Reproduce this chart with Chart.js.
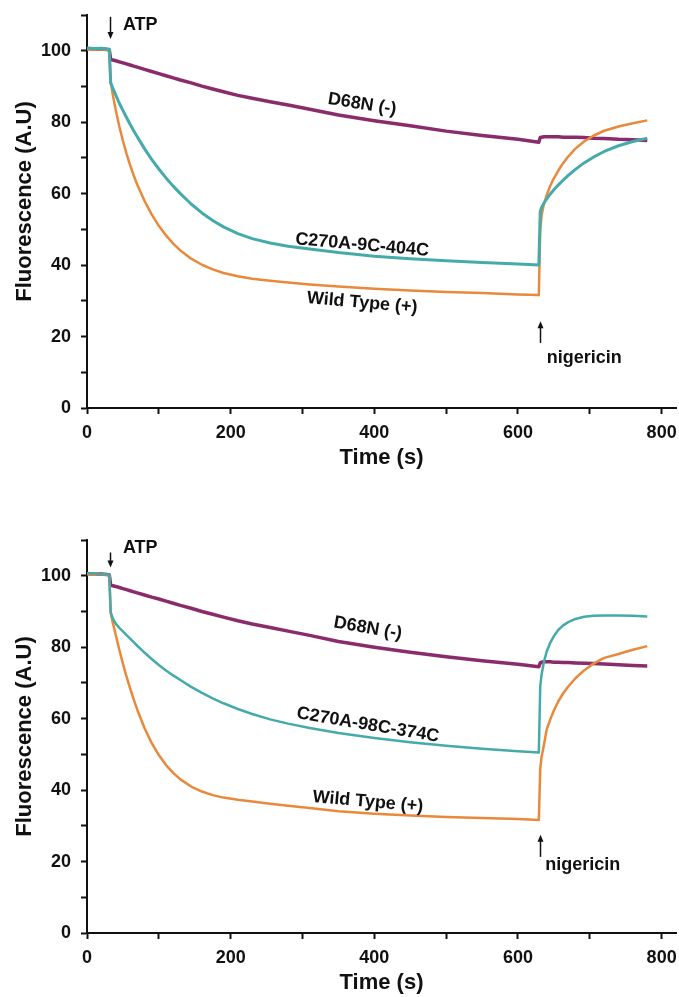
<!DOCTYPE html>
<html lang="en">
<head>
<meta charset="UTF-8">
<title>ATP-driven fluorescence quenching</title>
<script src="https://cdn.jsdelivr.net/npm/chart.js"></script>
<style>
  body { margin: 0; background: #fff; }
  canvas { position: absolute; left: 0; }
  #topChart { top: 0; }
  #bottomChart { top: 525px; }
</style>
</head>
<body>
<canvas id="topChart" width="679" height="472"></canvas>
<canvas id="bottomChart" width="679" height="472"></canvas>
<script>
// sampling times (s), shared by both panels: baseline, ATP decay, nigericin recovery
const time = [0, 10, 20, 31,
  33, 36, 40, 45, 50, 55, 60, 65, 70, 80, 90, 100, 110, 120, 130, 145, 160, 175, 190,
  210, 230, 255, 280, 310, 350, 400, 450, 500, 550, 600, 629,
  631, 633, 636, 640, 645, 650, 656, 663, 670, 680, 692, 705, 720, 740, 760, 780];

// upper panel
const d68nTop = [100.6, 100.4, 100.5, 100.3,
  97.5, 97.4, 97.2, 96.9, 96.6, 96.3, 96.0, 95.7, 95.4, 94.8, 94.2, 93.6, 93.0, 92.4, 91.8,
  91.0, 90.1, 89.3, 88.5, 87.5, 86.7, 85.7, 84.8, 83.6, 82.0, 80.4, 79.0, 77.5, 76.3, 75.2, 74.4,
  75.7, 75.8, 75.9, 75.9, 75.9, 75.9, 75.9, 75.8, 75.8, 75.8, 75.7, 75.5, 75.4, 75.2, 75.1, 74.9];
const mutantTop = [100.8, 100.6, 100.7, 100.4,
  91.0, 89.5, 87.6, 85.3, 83.3, 81.3, 79.4, 77.6, 75.9, 72.6, 69.6, 66.9, 64.4, 62.1, 60.0,
  57.1, 54.6, 52.5, 50.7, 48.8, 47.4, 46.2, 45.3, 44.5, 43.5, 42.5, 41.8, 41.2, 40.7, 40.3, 40.0,
  55.0, 56.2, 57.3, 58.5, 59.9, 61.1, 62.4, 63.8, 65.1, 66.8, 68.6, 70.2, 71.8, 73.4, 74.6, 75.5];
const wildTypeTop = [100.4, 100.3, 100.4, 100.2,
  91.3, 87.6, 83.4, 78.8, 74.8, 71.2, 68.0, 65.1, 62.5, 58.0, 54.2, 51.0, 48.3, 46.0, 44.1,
  41.8, 40.1, 38.8, 37.8, 36.9, 36.2, 35.6, 35.1, 34.6, 34.0, 33.4, 32.9, 32.5, 32.2, 31.8, 31.6,
  50.0, 54.0, 57.0, 59.6, 62.2, 64.3, 66.4, 68.6, 70.4, 72.6, 74.6, 76.2, 77.6, 78.8, 79.7, 80.5];

// lower panel
const d68nBottom = [100.6, 100.4, 100.5, 100.3,
  97.3, 97.2, 97.0, 96.7, 96.4, 96.1, 95.8, 95.5, 95.2, 94.6, 94.0, 93.5, 92.9, 92.3, 91.7,
  90.9, 90.0, 89.2, 88.4, 87.4, 86.5, 85.5, 84.5, 83.3, 81.6, 80.0, 78.6, 77.3, 76.2, 75.2, 74.5,
  75.6, 75.8, 75.9, 75.9, 75.9, 75.8, 75.8, 75.7, 75.7, 75.6, 75.5, 75.4, 75.3, 75.1, 74.9, 74.7];
const mutantBottom = [100.7, 100.6, 100.4, 100.3,
  89.8, 88.0, 86.6, 85.4, 84.4, 83.4, 82.4, 81.4, 80.4, 78.5, 76.7, 75.0, 73.5, 72.1, 70.8,
  68.9, 67.2, 65.7, 64.3, 62.7, 61.3, 59.8, 58.6, 57.4, 56.0, 54.6, 53.4, 52.4, 51.6, 50.9, 50.5,
  69.0, 72.5, 75.8, 78.8, 81.3, 83.1, 84.8, 86.1, 87.0, 87.9, 88.5, 88.8, 88.9, 88.9, 88.8, 88.6];
const wildTypeBottom = [100.4, 100.3, 100.4, 100.2,
  89.5, 86.8, 83.5, 79.3, 75.4, 71.8, 68.5, 65.4, 62.5, 57.4, 53.2, 49.8, 47.0, 44.8, 43.0,
  41.0, 39.6, 38.6, 37.9, 37.3, 36.8, 36.2, 35.6, 35.0, 34.1, 33.4, 32.9, 32.5, 32.2, 31.9, 31.6,
  46.0, 49.5, 52.5, 57.0, 59.8, 62.3, 64.8, 67.1, 69.0, 71.3, 73.5, 75.4, 77.0, 78.1, 79.3, 80.3];

const yTicks = [0, 20, 40, 60, 80, 100];
const xTicks = [0, 200, 400, 600, 800];

const FONT = "'Liberation Sans', Arial, sans-serif";
const INK = '#111';
const PURPLE = '#8a2c6b';
const TEAL = '#45abaa';
const ORANGE = '#e8893c';

function toPoints(values) {
  return time.map((t, i) => ({ x: t, y: values[i] }));
}

// text labels, arrows and the rotated y title, positioned in data units
const notesPlugin = {
  id: 'notes',
  afterDraw(chart, args, opts) {
    const { ctx, chartArea } = chart;
    const x = chart.scales.x, y = chart.scales.y;
    ctx.save();
    ctx.fillStyle = INK;
    ctx.strokeStyle = INK;

    ctx.save();
    ctx.translate(25, (chartArea.top + chartArea.bottom) / 2 + opts.titleShift);
    ctx.rotate(-Math.PI / 2);
    ctx.font = 'bold 22px ' + FONT;
    ctx.textAlign = 'center';
    ctx.textBaseline = 'middle';
    ctx.fillText('Fluorescence (A.U)', 0, 0);
    ctx.restore();

    ctx.font = 'bold 18px ' + FONT;
    opts.labels.forEach(l => {
      ctx.save();
      ctx.translate(x.getPixelForValue(l.t), y.getPixelForValue(l.v));
      ctx.rotate(l.angle * Math.PI / 180);
      ctx.textAlign = 'center';
      ctx.textBaseline = 'middle';
      ctx.fillText(l.text, 0, 0);
      ctx.restore();
    });

    opts.arrows.forEach(a => {
      const px = Math.round(x.getPixelForValue(a.t)) + 0.5;
      const y0 = y.getPixelForValue(a.from);
      const y1 = y.getPixelForValue(a.to);
      const dir = y1 > y0 ? 1 : -1;
      ctx.lineWidth = 1.5;
      ctx.beginPath();
      ctx.moveTo(px, y0);
      ctx.lineTo(px, y1 - dir * 5);
      ctx.stroke();
      ctx.beginPath();
      ctx.moveTo(px, y1);
      ctx.lineTo(px - 3, y1 - dir * 7);
      ctx.lineTo(px + 3, y1 - dir * 7);
      ctx.closePath();
      ctx.fill();
      ctx.textAlign = 'left';
      ctx.textBaseline = 'alphabetic';
      ctx.fillText(a.text, x.getPixelForValue(a.textT), y.getPixelForValue(a.textV));
    });
    ctx.restore();
  }
};

function makePanel(id, series, notes) {
  const ctx = document.getElementById(id).getContext('2d');
  return new Chart(ctx, {
    type: 'line',
    data: {
      datasets: [
        { label: series[0].name, data: toPoints(series[0].values), borderColor: TEAL, borderWidth: series[0].width },
        { label: 'Wild Type (+)', data: toPoints(series[1].values), borderColor: ORANGE, borderWidth: 2.5 },
        { label: 'D68N (-)', data: toPoints(series[2].values), borderColor: PURPLE, borderWidth: 3.5 }
      ]
    },
    options: {
      responsive: false,
      animation: false,
      layout: { padding: { top: 15, right: 3, left: 0, bottom: 0 } },
      elements: {
        point: { radius: 0 },
        line: { tension: 0, fill: false, borderJoinStyle: 'round' }
      },
      scales: {
        x: {
          type: 'linear',
          min: 0,
          max: 820,
          ticks: {
            stepSize: 100,
            includeBounds: false,
            padding: 8,
            color: INK,
            font: { family: FONT, size: 18, weight: 'bold' },
            callback: v => xTicks.includes(v) ? v : ''
          },
          afterBuildTicks: s => { s.ticks = s.ticks.filter(t => t.value % 100 === 0); },
          afterFit: s => { s.height = 64; s.paddingLeft = 0; s.paddingRight = 0; },
          grid: { drawOnChartArea: false, drawTicks: true, tickLength: 6, tickWidth: 2, tickColor: INK },
          border: { display: true, color: INK, width: 2 },
          title: {
            display: true,
            text: 'Time (s)',
            color: INK,
            font: { family: FONT, size: 22, weight: 'bold' },
            padding: { top: 0, bottom: 1 }
          }
        },
        y: {
          min: 0,
          max: 110,
          ticks: {
            stepSize: 10,
            padding: 10,
            color: INK,
            font: { family: FONT, size: 18, weight: 'bold' },
            callback: v => yTicks.includes(v) ? v : ''
          },
          afterFit: s => { s.width = 87; s.paddingTop = 0; s.paddingBottom = 0; },
          grid: { drawOnChartArea: false, drawTicks: true, tickLength: 6, tickWidth: 2, tickColor: INK },
          border: { display: true, color: INK, width: 2 }
        }
      },
      plugins: {
        legend: { display: false },
        tooltip: { enabled: false },
        notes: notes
      }
    },
    plugins: [notesPlugin]
  });
}

makePanel('topChart', [
  { name: 'C270A-9C-404C', values: mutantTop, width: 3 },
  { values: wildTypeTop },
  { values: d68nTop }
], {
  titleShift: -10,
  labels: [
    { text: 'D68N (-)', t: 383, v: 85, angle: 9 },
    { text: 'C270A-9C-404C', t: 383, v: 45.6, angle: 5 },
    { text: 'Wild Type (+)', t: 383, v: 29.4, angle: 5 }
  ],
  arrows: [
    { text: 'ATP', t: 32, from: 109.5, to: 103.3, textT: 50, textV: 105.7 },
    { text: 'nigericin', t: 630, from: 18.2, to: 24.3, textT: 640, textV: 12.6 }
  ]
});

makePanel('bottomChart', [
  { name: 'C270A-98C-374C', values: mutantBottom, width: 2.5 },
  { values: wildTypeBottom },
  { values: d68nBottom }
], {
  titleShift: 0,
  labels: [
    { text: 'D68N (-)', t: 391, v: 85.3, angle: 10 },
    { text: 'C270A-98C-374C', t: 391, v: 58.2, angle: 9.5 },
    { text: 'Wild Type (+)', t: 391, v: 36.7, angle: 5 }
  ],
  arrows: [
    { text: 'ATP', t: 32, from: 106.5, to: 102.3, textT: 50, textV: 106.5 },
    { text: 'nigericin', t: 631, from: 21.3, to: 27.5, textT: 638, textV: 17.7 }
  ]
});
</script>
</body>
</html>
